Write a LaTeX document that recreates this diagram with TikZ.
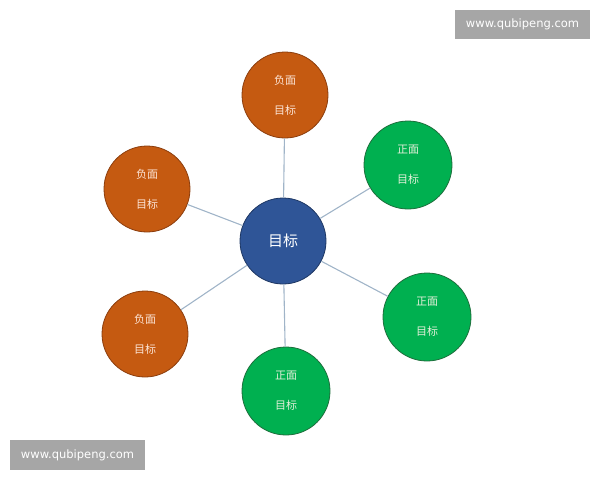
\documentclass[tikz,border=0pt]{standalone}
\usepackage{fontspec}
\newfontfamily\cjk{Noto Sans CJK SC}
\setmainfont{DejaVu Sans}
\newlength{\du}
\setlength{\du}{1pt}
\definecolor{negfill}{RGB}{197,90,17}
\definecolor{negline}{RGB}{140,62,14}
\definecolor{negtext}{RGB}{252,228,214}
\definecolor{posfill}{RGB}{0,176,80}
\definecolor{posline}{RGB}{30,110,60}
\definecolor{postext}{RGB}{226,240,217}
\definecolor{goalfill}{RGB}{47,85,151}
\definecolor{goalline}{RGB}{31,56,100}
\definecolor{linkcolor}{RGB}{160,180,200}
\definecolor{markfill}{RGB}{166,166,166}
\tikzset{
  goalnode/.style={circle, fill=goalfill, draw=goalline, line width=0.8\du, minimum size=86\du, inner sep=0pt, text=white, font=\cjk\fontsize{15}{17}\selectfont},
  negnode/.style={circle, fill=negfill, draw=negline, line width=0.8\du, minimum size=86\du, inner sep=0pt, text=negtext, font=\cjk\fontsize{11}{13}\selectfont, align=center},
  posnode/.style={circle, fill=posfill, draw=posline, line width=0.8\du, minimum size=88\du, inner sep=0pt, text=postext, font=\cjk\fontsize{11}{13}\selectfont, align=center},
  linkline/.style={draw=linkcolor, line width=1.1\du},
  markbox/.style={fill=markfill, text=white, inner sep=0pt, font=\fontsize{11.5}{13}\selectfont}
}
\begin{document}
\begin{tikzpicture}[yscale=-1]
\useasboundingbox (0\du,0\du) rectangle (600\du,480\du);
% centre
\node[goalnode] (goal) at (283\du,241\du){目标};
% negative goals
\node[negnode] (neg1) at (285\du,95\du){负面\\[17\du]目标};
\node[negnode] (neg2) at (147\du,189\du){负面\\[17\du]目标};
\node[negnode] (neg3) at (145\du,334\du){负面\\[17\du]目标};
% positive goals
\node[posnode] (pos1) at (408\du,165\du){正面\\[17\du]目标};
\node[posnode] (pos2) at (427\du,317\du){正面\\[17\du]目标};
\node[posnode] (pos3) at (286\du,391\du){正面\\[17\du]目标};
% links
\foreach \n in {neg1,neg2,neg3,pos1,pos2,pos3}
  \draw[linkline] (goal) -- (\n);
% watermarks
\node[markbox, minimum width=135\du, minimum height=29\du] (markA) at (522.5\du,24.5\du){www.qubipeng.com};
\node[markbox, minimum width=135\du, minimum height=30\du] (markB) at (77.5\du,455\du){www.qubipeng.com};
\end{tikzpicture}
\end{document}
